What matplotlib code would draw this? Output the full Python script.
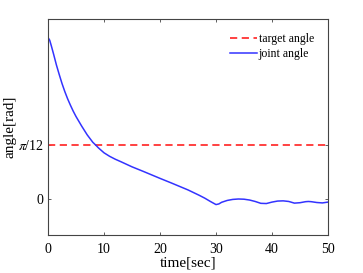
import numpy as np
import matplotlib
matplotlib.use('Agg')
import matplotlib.pyplot as plt

plt.rcParams['font.family'] = ['Liberation Serif', 'DejaVu Serif']
plt.rcParams['mathtext.fontset'] = 'stix'

# Data
time = [0, 0.3, 0.6, 1, 1.5, 2, 2.5, 3, 3.5, 4, 4.5, 5, 6, 7, 8, 8.5, 9, 10, 11, 12,
        13, 15, 17, 20, 22, 25, 27, 28, 29, 30, 30.5, 31, 32, 33, 34, 35, 36, 37,
        38, 39, 40, 41, 42, 43, 44, 45, 46, 46.5, 47, 48, 49, 50]
joint = [0.783, 0.770, 0.742, 0.702, 0.650, 0.604, 0.560, 0.521, 0.486, 0.455,
         0.426, 0.400, 0.354, 0.311, 0.275, 0.262, 0.248, 0.224, 0.207, 0.193,
         0.181, 0.156, 0.134, 0.100, 0.078, 0.044, 0.018, 0.004, -0.012, -0.027,
         -0.024, -0.016, -0.007, -0.002, 0.000, -0.001, -0.005, -0.012,
         -0.021, -0.022, -0.015, -0.010, -0.009, -0.012, -0.020, -0.018, -0.013,
         -0.012, -0.013, -0.017, -0.019, -0.015]
target = np.pi / 12

fig = plt.figure(figsize=(3.63, 2.73), dpi=100)
ax = fig.add_axes([48 / 363, 1 - 235 / 273, 280 / 363, 216 / 273])

ax.axhline(target, color='#ff3333', linestyle=(0, (4, 2.5)), linewidth=1.3,
           label='target angle')
ax.plot(time, joint, color='#3333ff', linewidth=1.1, label='joint angle')

ax.set_xlim(0, 50)
ax.set_ylim(-np.pi / 18, 5 * np.pi / 18)
ax.set_xticks([0, 10, 20, 30, 40, 50])
ax.set_yticks([0, target])
ax.set_yticklabels(['0', r'$\pi$/12'])
ax.tick_params(direction='in', top=True, right=True, length=2.5, width=0.6,
               labelsize=10, color='#444444')
ax.tick_params(axis='x', pad=6)
ax.tick_params(axis='y', pad=3)
for s in ax.spines.values():
    s.set_color('#444444')
    s.set_linewidth(0.8)

ax.set_xlabel('time[sec]', fontsize=11, labelpad=0)
ax.set_ylabel('angle[rad]', fontsize=11, labelpad=1)

ax.legend(loc='upper right', frameon=False, fontsize=8.5, handlelength=2.3,
          handletextpad=0.1, labelspacing=0.25, borderaxespad=0.8)

fig.savefig('out.png', dpi=100)
